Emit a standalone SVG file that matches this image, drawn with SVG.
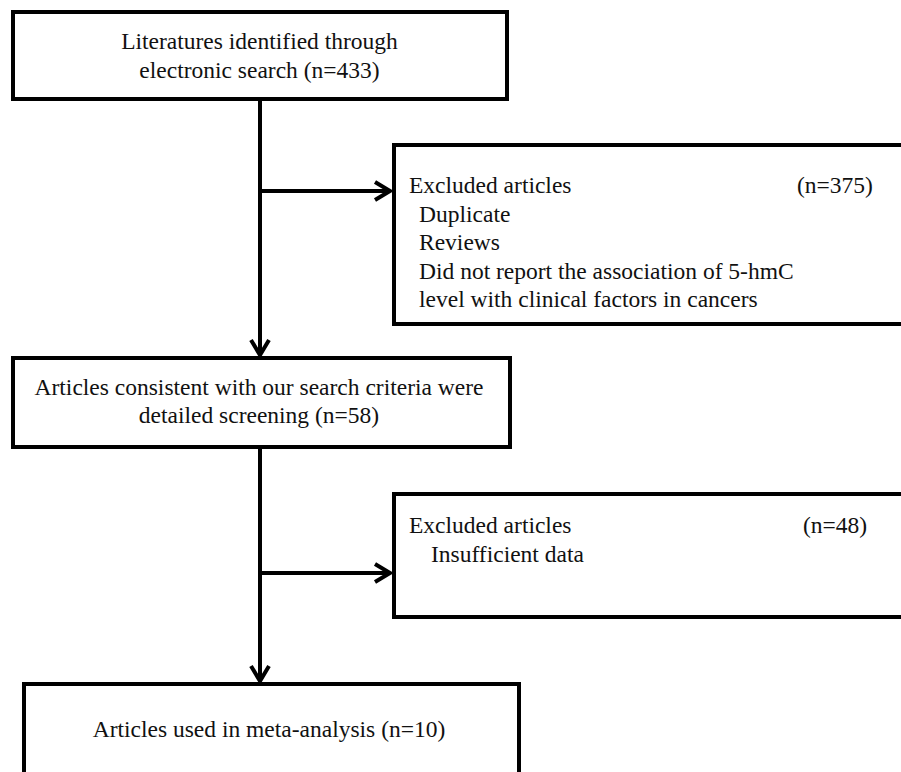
<svg xmlns="http://www.w3.org/2000/svg" width="901" height="772" viewBox="0 0 901 772">
<style>
.box{fill:#fff;stroke:#000;stroke-width:4}
.t{font-family:"Liberation Serif","Times New Roman",serif;font-size:23.5px;fill:#111}
.c{text-anchor:middle}
.ln{fill:none;stroke:#000;stroke-width:4}
</style>
<defs>
<marker id="arr" viewBox="-20 -12 24 24" refX="0" refY="0" markerWidth="24" markerHeight="24" markerUnits="userSpaceOnUse" orient="auto" overflow="visible">
<path d="M-15,-9 L0,0 L-15,9" fill="none" stroke="#000" stroke-width="4" stroke-linejoin="miter"/>
</marker>
</defs>
<rect width="901" height="772" fill="#fff"/>
<g id="connectors">
<line class="ln" x1="260" y1="100" x2="260" y2="355" marker-end="url(#arr)"/>
<line class="ln" x1="260" y1="191" x2="390" y2="191" marker-end="url(#arr)"/>
<line class="ln" x1="260" y1="448" x2="260" y2="681" marker-end="url(#arr)"/>
<line class="ln" x1="260" y1="573" x2="390" y2="573" marker-end="url(#arr)"/>
</g>
<g id="n1">
<rect class="box" x="13" y="12" width="494" height="87"/>
<text class="t c" x="259.5" y="49">Literatures identified through</text>
<text class="t c" x="259.5" y="78">electronic search (n=433)</text>
</g>
<g id="n2">
<rect class="box" x="394" y="145" width="530" height="179"/>
<text class="t" x="409" y="193">Excluded articles</text>
<text class="t" x="797" y="193">(n=375)</text>
<text class="t" x="419" y="222">Duplicate</text>
<text class="t" x="419" y="250">Reviews</text>
<text class="t" x="419" y="279">Did not report the association of 5-hmC</text>
<text class="t" x="419" y="307">level with clinical factors in cancers</text>
</g>
<g id="n3">
<rect class="box" x="13" y="358" width="497" height="89"/>
<text class="t c" x="259" y="395">Articles consistent with our search criteria were</text>
<text class="t c" x="259" y="423">detailed screening  (n=58)</text>
</g>
<g id="n4">
<rect class="box" x="394" y="494" width="530" height="123"/>
<text class="t" x="409" y="533">Excluded articles</text>
<text class="t" x="803" y="533">(n=48)</text>
<text class="t" x="431" y="562">Insufficient data</text>
</g>
<g id="n5">
<rect class="box" x="24" y="684" width="495" height="120"/>
<text class="t c" x="269" y="737">Articles used in meta-analysis (n=10)</text>
</g>
</svg>
